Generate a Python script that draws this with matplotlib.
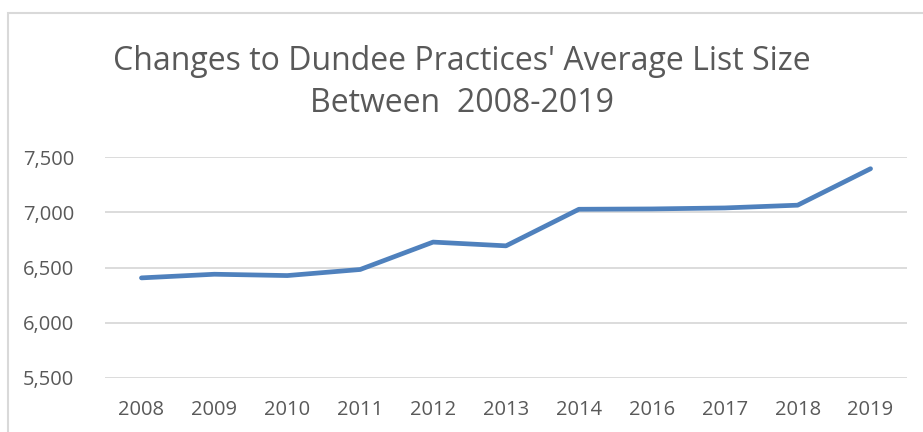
import matplotlib.pyplot as plt
from matplotlib.patches import Rectangle
from matplotlib.ticker import FuncFormatter

# average list size per year (2015 missing in source)
years = ["2008", "2009", "2010", "2011", "2012", "2013", "2014", "2016", "2017", "2018", "2019"]
list_size = [6406, 6439, 6427, 6482, 6730, 6696, 7027, 7030, 7039, 7064, 7394]
y_ticks = [5500, 6000, 6500, 7000, 7500]

TXT = '#595959'
GRID = '#d9d9d9'

plt.rcParams['font.family'] = ['Open Sans', 'DejaVu Sans']

fig = plt.figure(figsize=(9.23, 4.32), dpi=100)
W, H = 923, 432

# chart border (cropped at right/bottom)
fig.patches.append(Rectangle((8 / W, -0.1), 1.2, (H - 13) / H + 0.1, transform=fig.transFigure,
                             fill=False, edgecolor=GRID, linewidth=1.5))

ax = fig.add_axes([105 / W, (H - 378) / H, (907 - 105) / W, (378 - 157) / H])
x = list(range(len(years)))
ax.plot(x, list_size, color='#4f81bd', linewidth=3.4, solid_capstyle='round', solid_joinstyle='round')

ax.set_xlim(-0.5, len(years) - 0.5)
ax.set_ylim(5500, 7500)
ax.set_yticks(y_ticks)
ax.yaxis.set_major_formatter(FuncFormatter(lambda v, p: f"{int(v):,}"))
ax.set_xticks(x)
ax.set_xticklabels(years)
ax.grid(axis='y', color=GRID, linewidth=1.3)
ax.set_axisbelow(True)
for s in ax.spines.values():
    s.set_visible(False)
ax.tick_params(length=0, labelsize=14.5, labelcolor=TXT)
ax.tick_params(axis='y', pad=22)
ax.tick_params(axis='x', pad=16)

fig.text(0.5, (H - 61) / H, "Changes to Dundee Practices' Average List Size", ha='center', va='center',
         fontsize=23, color=TXT)
fig.text(0.5, (H - 104) / H, "Between  2008-2019", ha='center', va='center', fontsize=23, color=TXT)

fig.savefig('out.png', dpi=100)
